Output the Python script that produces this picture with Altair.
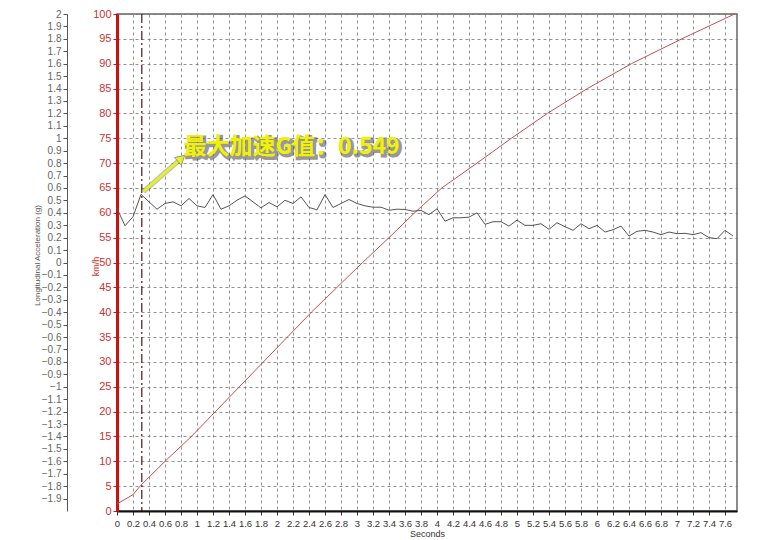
import altair as alt
import pandas as pd

# ---- data ----
t_g = [0.0, 0.1, 0.2, 0.3, 0.4, 0.5, 0.6, 0.7, 0.8, 0.9,
       1.0, 1.1, 1.2, 1.3, 1.4, 1.5, 1.6, 1.7, 1.8, 1.9,
       2.0, 2.1, 2.2, 2.3, 2.4, 2.5, 2.6, 2.7, 2.8, 2.9,
       3.0, 3.1, 3.2, 3.3, 3.4, 3.5, 3.6, 3.7, 3.8, 3.9,
       4.0, 4.1, 4.2, 4.3, 4.4, 4.5, 4.6, 4.7, 4.8, 4.9,
       5.0, 5.1, 5.2, 5.3, 5.4, 5.5, 5.6, 5.7, 5.8, 5.9,
       6.0, 6.1, 6.2, 6.3, 6.4, 6.5, 6.6, 6.7, 6.8, 6.9,
       7.0, 7.1, 7.2, 7.3, 7.4, 7.5, 7.6, 7.7]
g_vals = [0.435, 0.296, 0.368, 0.549, 0.488, 0.429, 0.475, 0.488, 0.456, 0.515,
          0.456, 0.443, 0.547, 0.429, 0.456, 0.501, 0.536, 0.488, 0.440, 0.483,
          0.448, 0.501, 0.475, 0.528, 0.443, 0.424, 0.547, 0.443, 0.475, 0.507,
          0.475, 0.456, 0.445, 0.445, 0.421, 0.429, 0.427, 0.413, 0.419, 0.385,
          0.432, 0.333, 0.360, 0.360, 0.365, 0.400, 0.307, 0.328, 0.328, 0.293,
          0.341, 0.299, 0.299, 0.312, 0.267, 0.320, 0.288, 0.259, 0.312, 0.272,
          0.299, 0.245, 0.264, 0.293, 0.213, 0.251, 0.259, 0.245, 0.224, 0.245,
          0.232, 0.235, 0.224, 0.240, 0.200, 0.192, 0.259, 0.213]

t_speed = [0.0, 0.2, 0.3, 0.6, 0.93, 1.23, 1.53, 1.83, 2.13, 2.43, 2.75,
           3.07, 3.4, 3.72, 4.06, 4.5, 4.93, 5.38, 5.88, 6.43, 7.06, 7.72]
speed_kmh = [1.4, 3.3, 5.2, 10, 15, 20, 25, 30, 35, 40, 45,
             50, 55, 60, 65, 70, 75, 80, 85, 90, 95, 100]

x_ticks = [0, 0.2, 0.4, 0.6, 0.8, 1, 1.2, 1.4, 1.6, 1.8, 2, 2.2, 2.4, 2.6, 2.8,
           3, 3.2, 3.4, 3.6, 3.8, 4, 4.2, 4.4, 4.6, 4.8, 5, 5.2, 5.4, 5.6, 5.8,
           6, 6.2, 6.4, 6.6, 6.8, 7, 7.2, 7.4, 7.6]
kmh_ticks = [0, 5, 10, 15, 20, 25, 30, 35, 40, 45, 50, 55, 60, 65, 70, 75,
             80, 85, 90, 95, 100]
g_ticks = [-1.9, -1.8, -1.7, -1.6, -1.5, -1.4, -1.3, -1.2, -1.1, -1, -0.9,
           -0.8, -0.7, -0.6, -0.5, -0.4, -0.3, -0.2, -0.1, 0, 0.1, 0.2, 0.3,
           0.4, 0.5, 0.6, 0.7, 0.8, 0.9, 1, 1.1, 1.2, 1.3, 1.4, 1.5, 1.6, 1.7,
           1.8, 1.9, 2]

peak_t = [0.31]
arrow_t = [0.33, 0.79]
arrow_g = [0.57, 0.83]
label_t = [0.83]
label_g = [0.93]
label_text = ["最大加速G值：0.549"]

W, H = 620, 497
FONT = "Liberation Sans"

xscale = alt.Scale(domain=[0, 7.75], nice=False, zero=False)
gscale = alt.Scale(domain=[-2, 2], nice=False, zero=False)
vscale = alt.Scale(domain=[0, 100], nice=False, zero=False)

df_speed = pd.DataFrame({"t": t_speed, "v": speed_kmh})
df_g = pd.DataFrame({"t": t_g, "g": g_vals})
df_peak = pd.DataFrame({"t": peak_t})
df_arrow = pd.DataFrame({"t": arrow_t, "g": arrow_g})
df_head = pd.DataFrame({"t": arrow_t[1:], "g": arrow_g[1:]})
df_label = pd.DataFrame({"t": label_t, "g": label_g, "txt": label_text})

grid_kw = dict(grid=True, gridDash=[3, 3], gridColor="#777", gridWidth=0.8)

x_axis = alt.Axis(
    values=x_ticks, format="~g", labelFlush=False, labelOverlap=False,
    domainColor="#111", domainWidth=2, tickColor="#333", tickSize=4,
    labelColor="#333", labelFontSize=9.5, labelFont=FONT, labelPadding=3,
    title="Seconds", titleFontSize=9, titleFont=FONT,
    titleFontWeight="normal", titleColor="#333", titlePadding=2,
    **grid_kw)


def X():
    return alt.X("t:Q", scale=xscale, axis=x_axis)


speed = alt.Chart(df_speed).mark_line(color="#c85050", strokeWidth=1).encode(
    x=X(),
    y=alt.Y("v:Q", scale=vscale, axis=alt.Axis(
        values=kmh_ticks, orient="left", labelFlush=False, labelOverlap=False,
        domainColor="#cc1111", domainWidth=3, tickColor="#cc1111", tickSize=4,
        labelColor="#cc3333", labelFontSize=11, labelFont=FONT,
        title="km/h", titleColor="#cc3333", titleFontSize=9, titleFont=FONT,
        titleFontWeight="normal", titleX=-22, titleY=252, titleAngle=-90,
        titleAlign="center", titleBaseline="middle", **grid_kw)),
)

gline = alt.Chart(df_g).mark_line(color="#555", strokeWidth=1).encode(
    x=X(),
    y=alt.Y("g:Q", scale=gscale, axis=alt.Axis(
        values=g_ticks, orient="left", offset=50, format="~g", grid=False,
        labelFlush=False, labelOverlap=False,
        domainColor="#555", tickColor="#555", tickSize=4,
        labelColor="#666", labelFontSize=10, labelFont=FONT,
        title="Longitudinal Acceleration (g)", titleFontSize=8, titleFont=FONT,
        titleFontWeight="normal", titleColor="#555", titleX=-30, titleY=241,
        titleAngle=-90, titleAlign="center", titleBaseline="middle")),
)

peak_rule = alt.Chart(df_peak).mark_rule(
    color="#4a1818", strokeWidth=1.2, strokeDash=[9, 3, 2, 3]
).encode(x=X())

arrow_shadow = alt.Chart(df_arrow).mark_line(
    color="#777", strokeWidth=5, opacity=0.5
).encode(x=X(), y=alt.Y("g:Q", scale=gscale, axis=None))
arrow = alt.Chart(df_arrow).mark_line(
    color="#e6f02a", strokeWidth=3
).encode(x=X(), y=alt.Y("g:Q", scale=gscale, axis=None))
head = alt.Chart(df_head).mark_point(
    shape="triangle", angle=48, size=110, filled=True, color="#e6f02a",
    stroke="#888", strokeWidth=0.8, opacity=1
).encode(x=X(), y=alt.Y("g:Q", scale=gscale, axis=None))

label_shadow = alt.Chart(df_label).mark_text(
    align="left", baseline="middle", fontSize=23, fontWeight="bold",
    font="Noto Sans CJK SC", color="#444", stroke="#444", strokeWidth=3,
    opacity=0.55, dx=2, dy=2
).encode(x=X(), y=alt.Y("g:Q", scale=gscale, axis=None), text="txt:N")
label = alt.Chart(df_label).mark_text(
    align="left", baseline="middle", fontSize=23, fontWeight="bold",
    font="Noto Sans CJK SC", color="#f2f200"
).encode(x=X(), y=alt.Y("g:Q", scale=gscale, axis=None), text="txt:N")

chart = alt.layer(
    speed, gline, peak_rule, arrow_shadow, arrow, head, label_shadow, label
).resolve_scale(y="independent").properties(
    width=W, height=H,
    autosize=alt.AutoSizeParams(type="none"),
    padding={"left": 109, "top": 6, "right": 15, "bottom": 29},
    background="white",
).configure_view(stroke="#666", strokeWidth=1.5)

chart.save("out.html", embed_options={"renderer": "svg", "actions": False})
